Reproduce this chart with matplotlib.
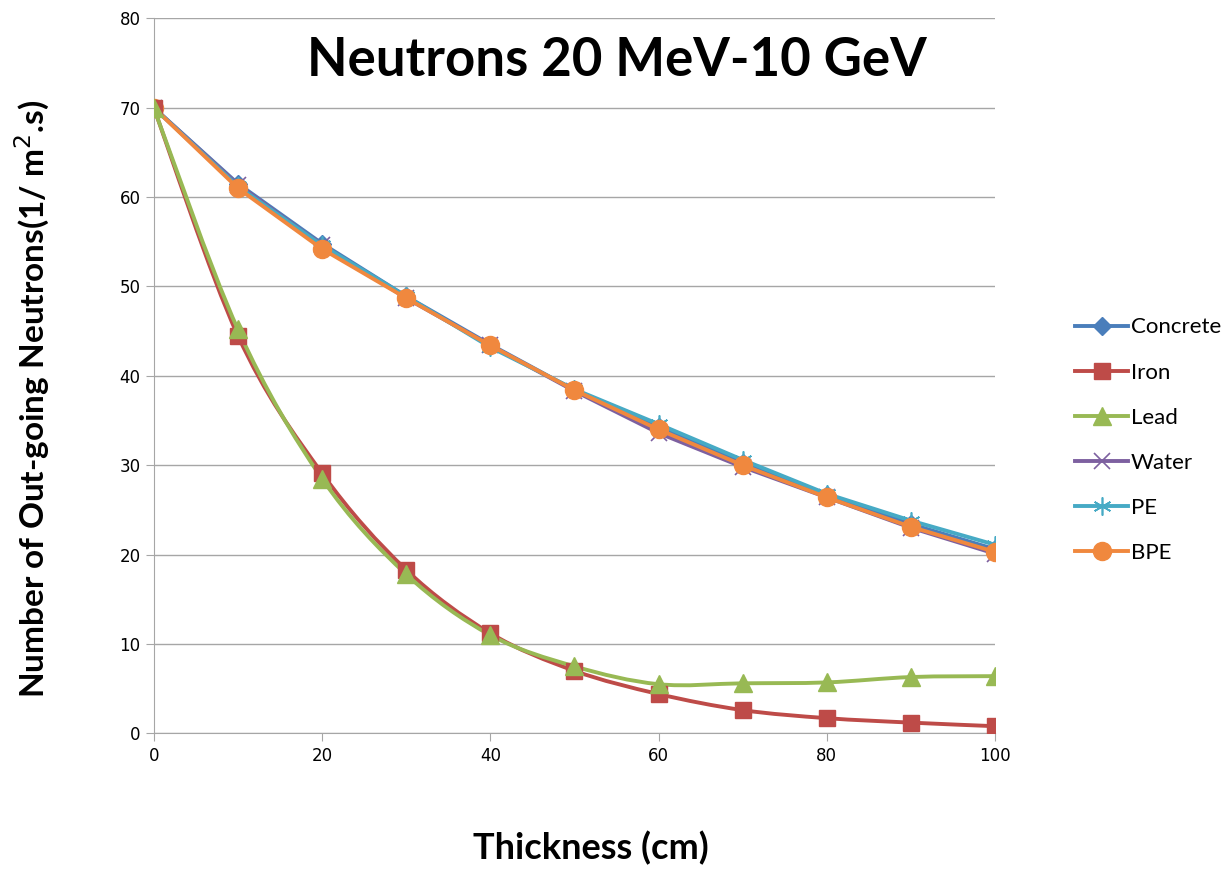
import numpy as np
import matplotlib.pyplot as plt
from matplotlib.path import Path
from matplotlib.patches import PathPatch

plt.rcParams['font.family'] = ['Lato', 'DejaVu Sans']

# data
thickness = [0, 10, 20, 30, 40, 50, 60, 70, 80, 90, 100]
concrete = [70, 61.5, 54.8, 48.9, 43.5, 38.4, 34.3, 30.3, 26.7, 23.4, 20.6]
iron = [70, 44.5, 29.1, 18.3, 11.2, 7.0, 4.4, 2.6, 1.7, 1.2, 0.8]
lead = [70, 45.2, 28.5, 17.8, 11.0, 7.5, 5.5, 5.6, 5.7, 6.3, 6.4]
water = [70, 61.4, 54.6, 48.7, 43.4, 38.3, 33.6, 29.8, 26.4, 23.0, 20.1]
pe = [70, 61.2, 54.6, 48.9, 43.2, 38.5, 34.6, 30.6, 26.8, 23.8, 21.1]
bpe = [70, 61.0, 54.2, 48.7, 43.4, 38.4, 34.0, 30.0, 26.4, 23.1, 20.3]

series = [
    ("Concrete", concrete, "#4A7EBB", "D", 9, False),
    ("Iron", iron, "#BE4B48", "s", 12, True),
    ("Lead", lead, "#98B954", "^", 13, True),
    ("Water", water, "#7D60A0", "x", 11, False),
    ("PE", pe, "#46AAC5", (6, 2, 0), 13, False),
    ("BPE", bpe, "#F0883E", "o", 13, False),
]


def smooth_path(x, y):
    # excel-like smoothed line: cubic bezier through every point
    x = np.asarray(x, float)
    y = np.asarray(y, float)
    n = len(x)
    verts = [(x[0], y[0])]
    codes = [Path.MOVETO]
    for i in range(n - 1):
        x0, y0 = (x[i - 1], y[i - 1]) if i > 0 else (x[i], y[i])
        x3, y3 = (x[i + 2], y[i + 2]) if i + 2 < n else (x[i + 1], y[i + 1])
        c1 = (x[i] + (x[i + 1] - x0) / 6, y[i] + (y[i + 1] - y0) / 6)
        c2 = (x[i + 1] - (x3 - x[i]) / 6, y[i + 1] - (y3 - y[i]) / 6)
        verts += [c1, c2, (x[i + 1], y[i + 1])]
        codes += [Path.CURVE4] * 3
    return Path(verts, codes)


fig = plt.figure(figsize=(12.3, 8.72), dpi=100)
ax = fig.add_axes([0.125, 0.159, 0.684, 0.82])

for name, vals, col, mk, ms, smooth in series:
    if smooth:
        ax.add_patch(PathPatch(smooth_path(thickness, vals), facecolor='none',
                               edgecolor=col, lw=2.8, zorder=3))
        ax.plot(thickness, vals, color=col, marker=mk, markersize=ms, lw=0,
                zorder=4)
        ax.plot([], [], color=col, marker=mk, markersize=ms, lw=2.8, label=name)
    else:
        mew = 1.2 if mk in ("x",) or isinstance(mk, tuple) else 1
        ax.plot(thickness, vals, color=col, marker=mk, markersize=ms, lw=2.8,
                markeredgewidth=mew, zorder=3, label=name)

ax.set_xlim(0, 100)
ax.set_ylim(0, 80)
ax.set_xticks(range(0, 101, 20))
ax.set_yticks(range(0, 81, 10))
ax.grid(axis='y', color='#a6a6a6', lw=1)
ax.set_axisbelow(True)
for s in ['top', 'right']:
    ax.spines[s].set_visible(False)
for s in ['left', 'bottom']:
    ax.spines[s].set_color('#a6a6a6')
ax.tick_params(colors='#a6a6a6', labelcolor='black', length=6, direction='out')
for lab in ax.get_xticklabels() + ax.get_yticklabels():
    lab.set_fontfamily(['DejaVu Sans'])
    lab.set_fontsize(12)

ax.text(0.55, 0.941, "Neutrons 20 MeV-10 GeV", transform=ax.transAxes,
        ha='center', va='center', fontsize=38, fontweight='bold')
ax.set_xlabel("Thickness (cm)", fontsize=26, fontweight='bold')
ax.xaxis.set_label_coords(0.52, -0.161)
ax.xaxis.label.set_va('center')
ax.set_ylabel("Number of Out-going Neutrons(1/ m$^2$.s)", fontsize=24,
              fontweight='bold')
ax.yaxis.set_label_coords(-0.144, 0.468)
ax.yaxis.label.set_va('center')

ax.legend(loc='center left', bbox_to_anchor=(1.095, 0.41), frameon=False,
          fontsize=16, handlelength=2.4, handletextpad=0.1, labelspacing=1.13,
          borderpad=0, borderaxespad=0)

fig.savefig("out.png", dpi=100)
